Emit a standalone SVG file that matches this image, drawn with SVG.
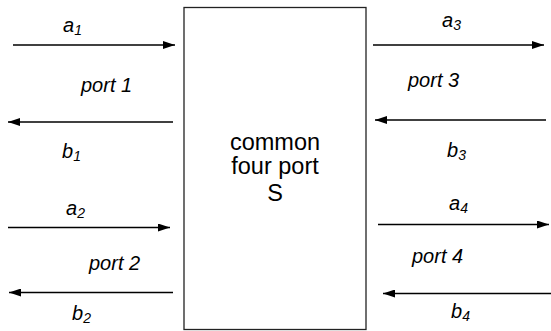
<svg xmlns="http://www.w3.org/2000/svg" width="551" height="331" viewBox="0 0 551 331">
<defs>
<marker id="ah" viewBox="0 0 12 8" refX="12" refY="4" markerWidth="12" markerHeight="8" markerUnits="userSpaceOnUse" orient="auto">
<path d="M0,0 L12,4 L0,8 z" fill="#000"/>
</marker>
</defs>
<style>
.lbl{font-family:"Liberation Sans",Arial,sans-serif;font-style:italic;font-size:20px;fill:#000}
.sub{font-size:14px}
.box{fill:#fff;stroke:#222;stroke-width:1.3}
.btxt{font-family:"Liberation Sans",Arial,sans-serif;font-size:23.5px;fill:#000;text-anchor:middle}
.conn line{stroke:#000;stroke-width:1.5;marker-end:url(#ah)}
</style>
<rect width="551" height="331" fill="#fff"/>
<g id="box">
<rect class="box" x="184" y="7.5" width="182" height="322"/>
<text class="btxt" x="275" y="150">common</text>
<text class="btxt" x="275" y="174">four port</text>
<text class="btxt" x="275" y="201">S</text>
</g>
<g id="connectors" class="conn">
<line x1="13" y1="45" x2="175" y2="45"/>
<line x1="173" y1="122" x2="8" y2="122"/>
<line x1="8" y1="227.5" x2="170" y2="227.5"/>
<line x1="173" y1="292.5" x2="9" y2="292.5"/>
<line x1="373" y1="45" x2="544" y2="45"/>
<line x1="546" y1="120" x2="375" y2="120"/>
<line x1="378" y1="224.5" x2="549" y2="224.5"/>
<line x1="551" y1="293.5" x2="383" y2="293.5"/>
</g>
<g id="port1">
<text class="lbl" x="63" y="32">a<tspan class="sub" dy="3">1</tspan></text>
<text class="lbl" x="81" y="92">port 1</text>
<text class="lbl" x="62" y="158">b<tspan class="sub" dy="3">1</tspan></text>
</g>
<g id="port2">
<text class="lbl" x="66" y="215">a<tspan class="sub" dy="3">2</tspan></text>
<text class="lbl" x="89" y="270">port 2</text>
<text class="lbl" x="72" y="320">b<tspan class="sub" dy="3">2</tspan></text>
</g>
<g id="port3">
<text class="lbl" x="442" y="27">a<tspan class="sub" dy="3">3</tspan></text>
<text class="lbl" x="408" y="87">port 3</text>
<text class="lbl" x="447" y="157">b<tspan class="sub" dy="3">3</tspan></text>
</g>
<g id="port4">
<text class="lbl" x="449" y="210">a<tspan class="sub" dy="3">4</tspan></text>
<text class="lbl" x="412" y="263">port 4</text>
<text class="lbl" x="451" y="318">b<tspan class="sub" dy="3">4</tspan></text>
</g>
</svg>
